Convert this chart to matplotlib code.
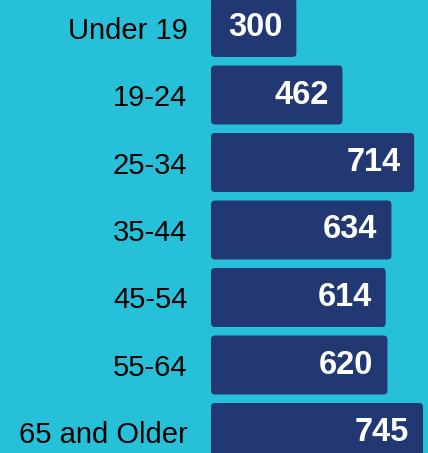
import matplotlib
matplotlib.use("Agg")
import matplotlib.pyplot as plt
from matplotlib.patches import FancyBboxPatch

categories = ["Under 19", "19-24", "25-34", "35-44", "45-54", "55-64", "65 and Older"]
values = [300, 462, 714, 634, 614, 620, 745]

BG = "#26C1D8"
BAR = "#213872"

plt.rcParams['font.family'] = ['Liberation Sans', 'DejaVu Sans']

W, H = 428, 453
fig = plt.figure(figsize=(W / 100, H / 100), dpi=100, facecolor=BG)
ax = fig.add_axes([211 / W, 0, 1 - 211 / W, 1])
ax.set_facecolor(BG)

px_per_unit = 212 / 745
ax.set_xlim(0, (W - 211) / px_per_unit)
pitch = 67.5
c0 = 27.5
ax.set_ylim((H - c0) / pitch, -c0 / pitch)

bar_h = 59 / pitch
ux = 1 / px_per_unit
uy = 1 / pitch
r_px = 4
bars = ax.barh(range(len(values)), values, height=bar_h, color=BAR)
for b in bars:
    x0, y0 = b.get_x(), b.get_y()
    w, h = b.get_width(), b.get_height()
    b.set_visible(False)
    p = FancyBboxPatch((x0, y0), w, h,
                       boxstyle=f"round,pad=0,rounding_size={r_px * ux}",
                       mutation_aspect=uy / ux,
                       facecolor=BAR, edgecolor="none", clip_on=False)
    ax.add_patch(p)
for i, v in enumerate(values):
    ax.annotate(str(v), xy=(v, i), xytext=(-10, 0), textcoords="offset points",
                ha="right", va="center", color="white", fontsize=23.5,
                fontweight="bold")

ax.set_yticks(range(len(categories)))
ax.set_yticklabels(categories, fontsize=21, color="black")
ax.tick_params(axis="y", length=0, pad=17)
ax.set_xticks([])
for s in ax.spines.values():
    s.set_visible(False)

fig.savefig("out.png", dpi=100, facecolor=BG)
